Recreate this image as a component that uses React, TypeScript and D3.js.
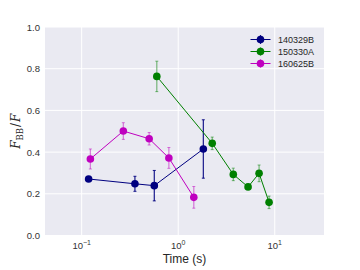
import { useEffect, useRef } from 'react';
import * as d3 from 'd3';

// 140329B
const timesA = [0.118, 0.356, 0.565, 1.82];
const ratioA = [0.271, 0.248, 0.239, 0.415];
const errA = [0.012, 0.036, 0.073, 0.14];

// 150330A
const timesB = [0.6, 2.25, 3.72, 5.29, 6.88, 8.73];
const ratioB = [0.763, 0.442, 0.293, 0.233, 0.298, 0.159];
const errB = [0.073, 0.03, 0.03, 0.012, 0.04, 0.03];

// 160625B
const timesC = [0.123, 0.27, 0.5, 0.8, 1.45];
const ratioC = [0.367, 0.501, 0.464, 0.372, 0.183];
const errC = [0.048, 0.04, 0.03, 0.05, 0.052];

const names = ['140329B', '150330A', '160625B'];
const colors = ['#000080', '#008000', '#bf00bf'];
const errAlpha = [0.9, 0.5, 0.5];

const yTicks = [0, 0.2, 0.4, 0.6, 0.8, 1.0];
const xTicks = [0.1, 1, 10];
const xExps = ['−1', '0', '1'];

const App = () => {
  const svgRef = useRef<SVGSVGElement>(null);

  useEffect(() => {
    const svg = d3.select(svgRef.current);
    svg.selectAll('*').remove();

    const left = 45, right = 324, top = 27, bottom = 235.5;
    const x = d3.scaleLog().domain([Math.pow(10, -1.38), Math.pow(10, 1.51)]).range([left, right]);
    const y = d3.scaleLinear().domain([0, 1]).range([bottom, top]);

    svg.append('rect')
      .attr('x', left).attr('y', top)
      .attr('width', right - left).attr('height', bottom - top)
      .attr('fill', '#eaeaf2');

    // grid
    svg.selectAll('.gy').data(yTicks).enter().append('line')
      .attr('x1', left).attr('x2', right)
      .attr('y1', d => y(d)).attr('y2', d => y(d))
      .attr('stroke', '#fff').attr('stroke-width', 1);
    svg.selectAll('.gx').data(xTicks).enter().append('line')
      .attr('y1', top).attr('y2', bottom)
      .attr('x1', d => x(d)).attr('x2', d => x(d))
      .attr('stroke', '#fff').attr('stroke-width', 1);

    // tick labels
    svg.selectAll('.ty').data(yTicks).enter().append('text')
      .attr('x', left - 5).attr('y', d => y(d) + 3.5)
      .attr('text-anchor', 'end')
      .attr('font-family', 'Liberation Sans, Arial, sans-serif')
      .attr('font-size', 9.5).attr('fill', '#333')
      .text(d => d.toFixed(1));

    xTicks.forEach((t, i) => {
      const tx = svg.append('text')
        .attr('x', x(t)).attr('y', bottom + 13)
        .attr('text-anchor', 'middle')
        .attr('font-family', 'Liberation Sans, Arial, sans-serif')
        .attr('font-size', 9.5).attr('fill', '#333');
      tx.append('tspan').text('10');
      tx.append('tspan').attr('dy', -4).attr('font-size', 7).text(xExps[i]);
    });

    svg.append('text')
      .attr('x', (left + right) / 2).attr('y', 263)
      .attr('text-anchor', 'middle')
      .attr('font-family', 'Liberation Sans, Arial, sans-serif')
      .attr('font-size', 12).attr('fill', '#262626')
      .text('Time (s)');

    const yl = svg.append('text')
      .attr('transform', `translate(20, ${(top + bottom) / 2}) rotate(-90)`)
      .attr('text-anchor', 'middle')
      .attr('font-family', 'DejaVu Serif, serif')
      .attr('font-size', 12).attr('fill', '#262626');
    yl.append('tspan').attr('font-style', 'italic').text('F');
    yl.append('tspan').attr('dy', 3).attr('font-size', 8.5).text('BB');
    yl.append('tspan').attr('dy', -3).attr('dx', 1).text('/');
    yl.append('tspan').attr('font-style', 'italic').attr('dx', 1).text('F');

    const series = [
      { t: timesA, v: ratioA, e: errA },
      { t: timesB, v: ratioB, e: errB },
      { t: timesC, v: ratioC, e: errC },
    ];

    series.forEach((s, k) => {
      const pts = s.t.map((t, i) => [x(t), y(s.v[i])] as [number, number]);
      const g = svg.append('g');
      // error bars
      s.t.forEach((t, i) => {
        const px = x(t);
        const y0 = y(s.v[i] - s.e[i]);
        const y1 = y(s.v[i] + s.e[i]);
        g.append('line')
          .attr('x1', px).attr('x2', px).attr('y1', y0).attr('y2', y1)
          .attr('stroke', colors[k]).attr('stroke-width', 1.2)
          .attr('stroke-opacity', errAlpha[k]);
        [y0, y1].forEach(cy => {
          g.append('line')
            .attr('x1', px - 1.5).attr('x2', px + 1.5).attr('y1', cy).attr('y2', cy)
            .attr('stroke', colors[k]).attr('stroke-width', 1)
            .attr('stroke-opacity', errAlpha[k]);
        });
      });
      g.append('path')
        .attr('d', d3.line()(pts))
        .attr('fill', 'none')
        .attr('stroke', colors[k]).attr('stroke-width', 1);
      g.selectAll('circle').data(pts).enter().append('circle')
        .attr('cx', d => d[0]).attr('cy', d => d[1]).attr('r', 3.8)
        .attr('fill', colors[k]);
    });

    // legend
    names.forEach((n, k) => {
      const ly = 39.5 + k * 12;
      svg.append('line')
        .attr('x1', 250.5).attr('x2', 270.5).attr('y1', ly).attr('y2', ly)
        .attr('stroke', colors[k]).attr('stroke-width', 1);
      svg.append('line')
        .attr('x1', 260.5).attr('x2', 260.5).attr('y1', ly - 4.5).attr('y2', ly + 4.5)
        .attr('stroke', colors[k]).attr('stroke-width', 1.2).attr('stroke-opacity', errAlpha[k]);
      svg.append('circle')
        .attr('cx', 260.5).attr('cy', ly).attr('r', 3.8).attr('fill', colors[k]);
      svg.append('text')
        .attr('x', 278).attr('y', ly + 3.3)
        .attr('font-family', 'Liberation Sans, Arial, sans-serif')
        .attr('font-size', 9).attr('fill', '#262626')
        .text(n);
    });
  }, []);

  return (
    <svg ref={svgRef} width={360} height={270}
      style={{ position: 'absolute', left: 0, top: 0 }} />
  );
};

export default App;
